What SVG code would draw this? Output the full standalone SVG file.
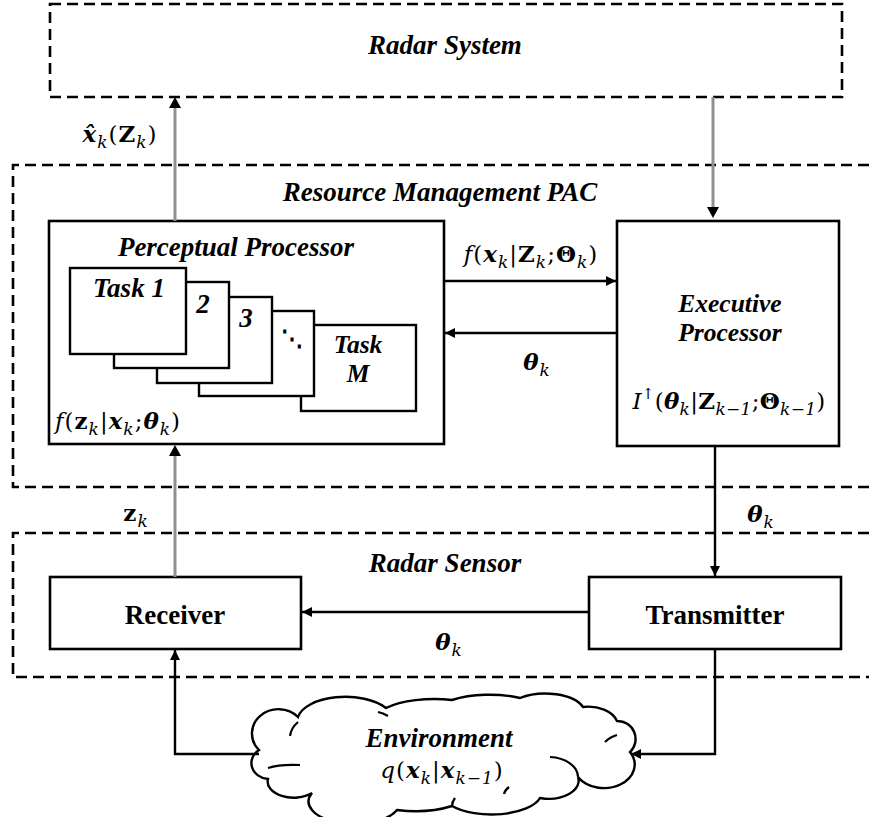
<svg xmlns="http://www.w3.org/2000/svg" width="869" height="817" viewBox="0 0 869 817">
<defs>
<marker id="ah" viewBox="0 0 10 10" refX="10" refY="5" markerWidth="10" markerHeight="10" markerUnits="userSpaceOnUse" orient="auto">
<path d="M0,0 L10,5 L0,10 z" fill="#000"/>
</marker>
<style>
.dash{fill:none;stroke:#000;stroke-width:2.6;stroke-dasharray:11,6}
.box{fill:#fff;stroke:#000;stroke-width:2.6}
.tbox{fill:#fff;stroke:#000;stroke-width:2.4}
.ln{fill:none;stroke:#000;stroke-width:2.4}
.gl{fill:none;stroke:#909090;stroke-width:3}
.ti{font-family:"Liberation Serif",serif;font-weight:bold;font-style:italic;font-size:27px;fill:#000}
.ti2{font-family:"Liberation Serif",serif;font-weight:bold;font-style:italic;font-size:25.5px;fill:#000}
.tb{font-family:"Liberation Serif",serif;font-weight:bold;font-size:27px;fill:#000}
.m{font-family:"DejaVu Serif",serif;font-size:23px;letter-spacing:1px;fill:#000}
.bi{font-weight:bold;font-style:italic}
.b{font-weight:bold}
.it{font-style:italic}
.s{font-style:italic;font-size:17px}
.s2{font-size:15px}
</style>
</defs>

<g id="radar-system">
<rect class="dash" x="50" y="4" width="792" height="93"/>
<text class="ti" x="445" y="54" text-anchor="middle">Radar System</text>
</g>

<g id="resource-management-pac">
<path class="dash" d="M869,165 H13 V487 H869"/>
<text class="ti" x="440" y="201" text-anchor="middle">Resource Management PAC</text>
</g>

<g id="radar-sensor">
<path class="dash" d="M869,533 H13 V677 H869"/>
<text class="ti" x="445" y="572" text-anchor="middle">Radar Sensor</text>
</g>

<g id="perceptual-processor">
<rect class="box" x="49" y="221" width="395" height="223"/>
<text class="ti" x="236" y="256" text-anchor="middle">Perceptual Processor</text>
<rect class="tbox" x="301" y="325" width="115" height="86"/>
<rect class="tbox" x="199" y="311" width="115" height="85"/>
<rect class="tbox" x="157" y="297" width="115" height="86"/>
<rect class="tbox" x="114" y="282" width="115" height="86"/>
<rect class="tbox" x="70" y="268" width="116" height="86"/>
<text class="ti" x="129" y="297" text-anchor="middle">Task 1</text>
<text class="ti" x="203" y="313" text-anchor="middle">2</text>
<text class="ti" x="246" y="327" text-anchor="middle">3</text>
<text x="292" y="346" text-anchor="middle" style="font-family:'DejaVu Serif',serif;font-size:22px;font-weight:bold">⋱</text>
<text class="ti2" text-anchor="middle"><tspan x="358" y="353">Task</tspan><tspan x="358" y="382">M</tspan></text>
<text class="m" x="55" y="429"><tspan class="it">f</tspan>(<tspan class="b">z</tspan><tspan class="s" dy="6">k</tspan><tspan dy="-6">|</tspan><tspan class="bi">x</tspan><tspan class="s" dy="6">k</tspan><tspan dy="-6">;</tspan><tspan class="bi">θ</tspan><tspan class="s" dy="6">k</tspan><tspan dy="-6">)</tspan></text>
</g>

<g id="executive-processor">
<rect class="box" x="617" y="221" width="222" height="225"/>
<text class="ti2" text-anchor="middle"><tspan x="730" y="312">Executive</tspan><tspan x="730" y="341">Processor</tspan></text>
<text class="m" x="729" y="409" text-anchor="middle" style="letter-spacing:0.3px"><tspan class="it">I</tspan><tspan class="s2" dy="-10">↑</tspan><tspan dy="10">(</tspan><tspan class="bi">θ</tspan><tspan class="s" dy="6">k</tspan><tspan dy="-6">|</tspan><tspan class="b">Z</tspan><tspan class="s" dy="6">k−1</tspan><tspan dy="-6">;</tspan><tspan class="b">Θ</tspan><tspan class="s" dy="6">k−1</tspan><tspan dy="-6">)</tspan></text>
</g>

<g id="receiver">
<rect class="box" x="50" y="577" width="251" height="72"/>
<text class="tb" x="175" y="624" text-anchor="middle">Receiver</text>
</g>

<g id="transmitter">
<rect class="box" x="589" y="577" width="252" height="72"/>
<text class="tb" x="715" y="624" text-anchor="middle">Transmitter</text>
</g>

<g id="environment">
<path fill="#fff" stroke="#000" stroke-width="2.4" d="M259,750 A24,22 0 0 1 298,717 A48,24 0 0 1 386,708 A60,22 0 0 1 452,700 A60,24 0 0 1 520,698 A40,20 0 0 1 583,707 A30,20 0 0 1 617,721 A18,18 0 0 1 630,752 A26,20 0 0 1 578,777 A30,18 0 0 1 540,798 A50,22 0 0 1 452,806 A60,24 0 0 1 397,810 A45,22 0 0 1 312,793 A26,16 0 0 1 268,779 A18,16 0 0 1 259,750 z"/>
<path fill="none" stroke="#000" stroke-width="2.2" d="M290,736 Q291,728 298,722 M378,712 Q383,713 388,716 M605,742 Q610,737 617,735 M550,757 A30,20 0 0 1 578,777 M268,768 Q280,764 300,765 M504,794 Q505,790 509,787 M452,806 Q452,802 455,798"/>
<text class="ti" x="439" y="747" text-anchor="middle">Environment</text>
<text class="m" x="442" y="778" text-anchor="middle"><tspan class="it">q</tspan>(<tspan class="bi">x</tspan><tspan class="s" dy="6">k</tspan><tspan dy="-6">|</tspan><tspan class="bi">x</tspan><tspan class="s" dy="6">k−1</tspan><tspan dy="-6">)</tspan></text>
</g>

<g id="connectors">
<line class="gl" x1="175" y1="221" x2="175" y2="107"/>
<path d="M169,108 L175,97 L181,108 z" fill="#000"/>
<line class="gl" x1="713" y1="97" x2="713" y2="208"/>
<path d="M707,207 L713,218 L719,207 z" fill="#000"/>
<line class="ln" x1="444" y1="281" x2="616" y2="281" marker-end="url(#ah)"/>
<line class="ln" x1="617" y1="333" x2="445" y2="333" marker-end="url(#ah)"/>
<line class="ln" x1="715" y1="446" x2="715" y2="576" marker-end="url(#ah)"/>
<line class="ln" x1="589" y1="612" x2="302" y2="612" marker-end="url(#ah)"/>
<line class="gl" x1="175" y1="577" x2="175" y2="455"/>
<path d="M169,456 L175,445 L181,456 z" fill="#000"/>
<path class="ln" d="M715,649 V754 H631" marker-end="url(#ah)"/>
<path class="ln" d="M259,754 H175 V650" marker-end="url(#ah)"/>
<text class="m" x="120" y="142" text-anchor="middle"><tspan class="bi">x̂</tspan><tspan class="s" dy="6">k</tspan><tspan dy="-6">(</tspan><tspan class="b">Z</tspan><tspan class="s" dy="6">k</tspan><tspan dy="-6">)</tspan></text>
<text class="m" x="531" y="262" text-anchor="middle"><tspan class="it">f</tspan>(<tspan class="bi">x</tspan><tspan class="s" dy="6">k</tspan><tspan dy="-6">|</tspan><tspan class="b">Z</tspan><tspan class="s" dy="6">k</tspan><tspan dy="-6">;</tspan><tspan class="b">Θ</tspan><tspan class="s" dy="6">k</tspan><tspan dy="-6">)</tspan></text>
<text class="m" x="537" y="370" text-anchor="middle"><tspan class="bi">θ</tspan><tspan class="s" dy="6">k</tspan></text>
<text class="m" x="761" y="522" text-anchor="middle"><tspan class="bi">θ</tspan><tspan class="s" dy="6">k</tspan></text>
<text class="m" x="449" y="650" text-anchor="middle"><tspan class="bi">θ</tspan><tspan class="s" dy="6">k</tspan></text>
<text class="m" x="136" y="521" text-anchor="middle"><tspan class="b">z</tspan><tspan class="s" dy="6">k</tspan></text>
</g>
</svg>
